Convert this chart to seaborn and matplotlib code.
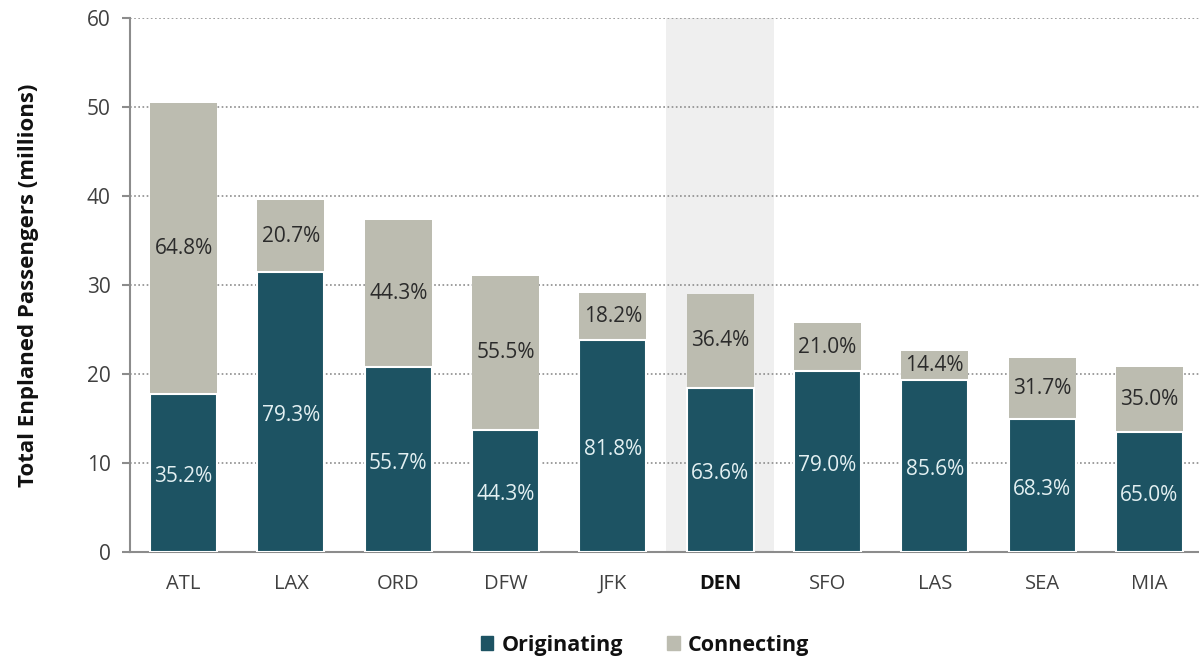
import matplotlib

matplotlib.use("Agg")
import matplotlib.pyplot as plt
import numpy as np
import pandas as pd
import seaborn as sns
from matplotlib.patches import Patch

# Datos
airports = ["ATL", "LAX", "ORD", "DFW", "JFK", "DEN", "SFO", "LAS", "SEA", "MIA"]
total_millions = [50.4, 39.6, 37.3, 31.0, 29.1, 29.0, 25.7, 22.6, 21.8, 20.8]
originating_pct = [35.2, 79.3, 55.7, 44.3, 81.8, 63.6, 79.0, 85.6, 68.3, 65.0]
connecting_pct = [64.8, 20.7, 44.3, 55.5, 18.2, 36.4, 21.0, 14.4, 31.7, 35.0]
highlight = "DEN"

ORIG_COLOR = "#1d5363"
CONN_COLOR = "#bcbcb0"
GRID_COLOR = "#8c8c8c"
TEXT_COLOR = "#404040"

df = pd.DataFrame({"airport": airports, "total": total_millions,
                   "orig_pct": originating_pct, "conn_pct": connecting_pct})
df["originating"] = df["total"] * df["orig_pct"] / 100

sns.set_theme(style="white")
plt.rcParams["font.family"] = ["Open Sans", "DejaVu Sans"]

fig = plt.figure(figsize=(11.99, 6.59), dpi=100)
# el eje de categorías queda recortado por la derecha, como en el original
ax = fig.add_axes([130 / 1199, 0.1624, (1203 - 130) / 1199, 0.8103])

# total (connecting) primero, originating encima
sns.barplot(data=df, x="airport", y="total", color=CONN_COLOR, width=0.625,
            saturation=1, ax=ax, zorder=2, linewidth=0)
sns.barplot(data=df, x="airport", y="originating", color=ORIG_COLOR, width=0.625,
            saturation=1, ax=ax, zorder=3, edgecolor="white", linewidth=1.5)

hi = airports.index(highlight)
ax.axvspan(hi - 0.5, hi + 0.5, color="#efefef", zorder=0.2, linewidth=0)

for i, row in df.iterrows():
    ax.text(i, row["originating"] / 2 - 0.4, f"{row['orig_pct']:.1f}%", ha="center", va="center",
            color="#e3f0f2", fontsize=15, zorder=5)
    ax.text(i, (row["originating"] + row["total"]) / 2, f"{row['conn_pct']:.1f}%", ha="center",
            va="center", color="#2b2b2b", fontsize=15, zorder=5)

ax.set_xlim(-0.5, len(airports) - 0.5)
ax.set_ylim(0, 60)
ax.set_yticks(np.arange(0, 61, 10))
ax.set_axisbelow(True)
ax.yaxis.grid(True, linestyle=(0, (1, 1.5)), color=GRID_COLOR, linewidth=1.2)
ax.xaxis.grid(False)

for side in ["top", "right"]:
    ax.spines[side].set_visible(False)
for side in ["left", "bottom"]:
    ax.spines[side].set_color("#8c8c8c")
    ax.spines[side].set_linewidth(1.5)

ax.set_xticks(np.arange(-0.5, len(airports), 1), minor=True)
ax.tick_params(axis="x", which="major", length=0, pad=16, labelsize=14.5, labelcolor=TEXT_COLOR)
ax.tick_params(axis="x", which="minor", length=7, width=1.5, color="#8c8c8c", direction="out")
ax.tick_params(axis="y", which="major", length=6, width=1.5, color="#8c8c8c", direction="out",
               labelsize=15, labelcolor=TEXT_COLOR, pad=8, left=True)
for lbl in ax.get_xticklabels():
    if lbl.get_text() == highlight:
        lbl.set_fontweight("bold")
        lbl.set_color("#111111")

ax.set_xlabel("")
ax.set_ylabel("Total Enplaned Passengers (millions)", fontsize=16, fontweight="bold",
              color="#111111", labelpad=34)

handles = [Patch(color=ORIG_COLOR, label="Originating"), Patch(color=CONN_COLOR, label="Connecting")]
fig.legend(handles=handles, loc="center", bbox_to_anchor=(0.538, 0.021), ncol=2, frameon=False,
           prop={"weight": "bold", "size": 15.5}, handlelength=0.6, handleheight=0.6,
           handletextpad=0.4, columnspacing=2.0, labelcolor="#111111")

fig.savefig("out.png", dpi=100)
plt.close(fig)
